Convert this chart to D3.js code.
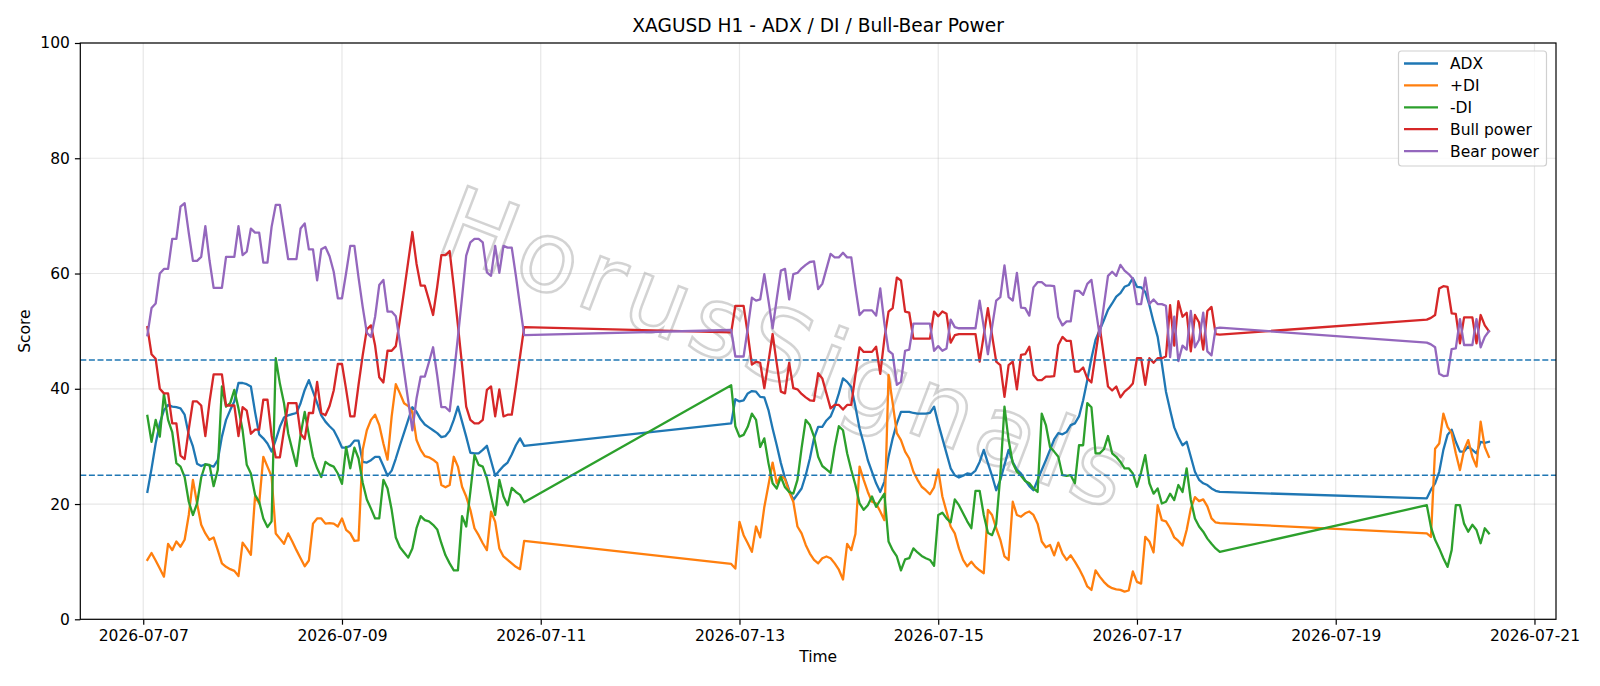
<!DOCTYPE html>
<html>
<head>
<meta charset="utf-8">
<script src="https://cdn.jsdelivr.net/npm/d3@7"></script>
<style>
body { margin: 0; background: #fff; }
svg { display: block; font-family: "DejaVu Sans", sans-serif; }
</style>
</head>
<body>
<svg id="chart" width="1600" height="686"></svg>
<script>
// H1 bars, three trading sessions (weekend gaps in between)
var sessionStart = ["2026-07-07T01:00:00Z", "2026-07-12T22:00:00Z", "2026-07-19T22:00:00Z"];
var sessionBars = [92, 119, 16];

var adx = [
  22.1, 26.1, 30.5, 34.0, 36.3, 37.2, 36.9, 36.8, 36.6, 35.5, 32.0, 30.0, 27.0, 26.6, 26.9, 26.7, 26.5, 27.6, 31.7, 34.6, 36.3, 37.8,
  41.0, 41.0, 40.8, 40.4, 36.0, 32.1, 31.4, 30.5, 29.1, 31.1, 33.4, 35.0, 35.4, 35.6, 35.8, 37.5, 39.8, 41.5, 39.5, 37.5, 35.4, 34.3, 33.5,
  32.8, 31.4, 29.8, 29.8, 30.1, 31.0, 31.0, 27.3, 27.2, 27.6, 28.2, 28.2, 26.6, 24.9, 25.8, 27.9, 30.2, 32.4, 34.6, 36.8, 36.0, 34.7, 33.8,
  33.3, 32.8, 32.3, 31.6, 31.8, 32.7, 34.6, 36.9, 34.3, 31.7, 28.9, 28.8, 28.8, 29.4, 30.1, 27.5, 24.9, 25.8, 26.6, 27.2, 28.6, 30.2, 31.4, 30.1,
  34.0, 38.2, 37.8, 38.0, 39.2, 39.6, 39.5, 38.6, 38.5, 36.3, 33.1, 30.2, 27.1, 24.5, 22.4, 20.7, 21.7, 22.7, 25.0, 27.9, 31.4, 33.4,
  33.4, 34.5, 35.2, 36.9, 39.2, 41.8, 41.2, 40.3, 36.9, 33.1, 30.5, 27.6, 25.6, 23.6, 22.1, 23.9, 28.2, 31.4, 34.0, 36.0, 36.0, 36.0, 35.8, 35.7, 35.7,
  35.7, 35.8, 36.9, 34.0, 31.4, 28.8, 26.2, 25.0, 24.6, 24.9, 25.3, 25.2, 25.8, 27.3, 29.4, 27.1, 24.9, 22.4, 24.2, 26.8, 29.4, 27.3, 26.0, 25.3,
  24.1, 23.1, 22.4, 24.2, 25.9, 27.6, 29.4, 31.2, 32.3, 32.1, 32.5, 33.7, 34.0, 35.2, 38.0, 41.5, 45.3, 48.5, 50.2, 51.9, 53.7, 54.8, 56.0, 56.6, 57.7,
  58.0, 59.2, 57.7, 57.6, 56.8, 54.5, 51.6, 49.0, 44.4, 39.5, 36.3, 33.3, 31.6, 30.2, 30.8, 28.2, 25.6, 24.2, 23.6, 23.3, 22.7, 22.3, 22.1,
  21.0, 22.5, 23.6, 25.6, 29.4, 32.0, 32.9, 30.8, 29.1, 29.1, 30.0, 29.4, 28.8, 30.8, 30.6, 30.8
];

var plusDI = [
  10.3, 11.5, 10.2, 8.8, 7.4, 13.1, 12.0, 13.5, 12.6, 13.8, 18.1, 24.2, 20.1, 16.4, 14.9, 13.8, 14.2, 12.0, 9.7, 9.1, 8.7, 8.4,
  7.5, 13.3, 12.3, 11.2, 21.3, 20.1, 28.2, 26.5, 24.8, 14.9, 14.0, 13.1, 14.9, 13.5, 12.0, 10.6, 9.2, 10.2, 16.6, 17.5, 17.5, 16.6, 16.7,
  16.6, 16.1, 17.5, 15.5, 14.9, 13.6, 13.7, 29.4, 32.8, 34.6, 35.5, 33.7, 30.5, 27.7, 35.2, 40.8, 39.2, 37.5, 37.0, 36.0, 31.1, 29.4, 28.3,
  28.1, 27.7, 27.1, 23.3, 22.9, 23.3, 28.2, 26.5, 23.0, 21.3, 19.0, 15.8, 14.6, 13.2, 12.0, 18.7, 16.9, 12.3, 10.9, 10.3, 9.7, 9.1, 8.7, 13.6,
  9.6, 8.8, 16.9, 14.6, 13.2, 11.7, 16.1, 14.2, 19.5, 23.3, 27.2, 23.6, 25.0, 24.3, 22.1, 20.4, 16.1, 14.9, 12.9, 11.4, 10.3, 9.7,
  10.6, 10.9, 10.6, 9.7, 8.6, 6.9, 13.1, 12.0, 14.8, 26.5, 24.2, 22.1, 20.4, 20.1, 18.7, 17.2, 42.4, 37.5, 32.3, 31.1, 29.1, 27.9, 25.6, 24.2, 23.0,
  22.4, 21.7, 22.9, 26.0, 21.3, 18.7, 16.1, 14.9, 12.3, 10.3, 9.2, 10.0, 9.1, 8.5, 8.0, 19.0, 18.1, 15.8, 13.8, 10.9, 10.3, 20.4, 18.1, 17.8,
  18.4, 18.7, 18.1, 16.6, 13.5, 12.5, 12.9, 11.1, 13.3, 11.4, 10.3, 11.1, 10.0, 8.8, 7.4, 5.7, 5.1, 8.5, 7.4, 6.5, 5.8, 5.4, 5.2, 5.1, 4.8,
  5.0, 8.3, 6.5, 6.2, 14.3, 13.5, 11.6, 19.8, 17.2, 17.0, 15.8, 14.2, 13.6, 12.8, 15.5, 19.2, 21.2, 20.5, 20.8, 19.6, 17.5, 16.8, 16.7,
  14.9, 14.3, 29.6, 30.5, 35.7, 33.4, 32.3, 28.8, 25.9, 29.4, 31.1, 28.2, 26.5, 34.3, 29.9, 28.2
];

var minusDI = [
  35.3, 30.8, 34.6, 31.7, 39.1, 34.6, 32.5, 27.1, 26.5, 24.7, 20.4, 18.1, 20.1, 24.6, 26.9, 26.8, 23.1, 25.9, 40.4, 36.9, 37.5, 39.8,
  36.6, 32.8, 26.8, 25.3, 21.6, 20.4, 17.5, 16.0, 17.0, 45.3, 40.9, 37.5, 32.3, 29.4, 26.6, 32.0, 36.0, 32.0, 28.2, 26.2, 24.7, 27.3, 26.8,
  26.5, 25.3, 23.5, 29.9, 26.2, 29.8, 27.9, 23.7, 20.8, 19.2, 17.5, 17.5, 24.2, 22.7, 19.0, 14.2, 12.5, 11.6, 10.7, 12.3, 15.8, 17.9, 17.2,
  17.0, 16.4, 15.6, 13.2, 11.1, 9.7, 8.5, 8.5, 17.9, 16.1, 22.1, 28.5, 26.8, 26.5, 24.5, 21.3, 18.1, 24.2, 21.3, 19.8, 22.8, 22.1, 21.6, 20.3,
  40.6, 33.5, 31.7, 32.0, 33.4, 35.7, 34.6, 29.9, 31.4, 27.1, 23.6, 22.7, 24.7, 22.9, 22.1, 21.8, 24.2, 29.7, 34.6, 33.7, 31.7, 28.2,
  26.6, 26.0, 25.4, 29.9, 33.5, 32.8, 28.8, 25.9, 23.3, 20.1, 19.0, 19.8, 21.3, 19.5, 20.7, 21.8, 13.5, 12.0, 10.9, 8.5, 10.4, 10.6, 12.3, 11.6, 11.0,
  10.6, 10.3, 9.3, 18.1, 18.5, 17.5, 16.8, 20.8, 19.8, 18.4, 17.0, 15.8, 22.3, 22.3, 18.1, 15.0, 14.6, 16.5, 25.0, 36.9, 31.1, 27.1, 25.6, 24.9,
  24.0, 23.6, 22.7, 22.1, 35.7, 33.7, 29.9, 29.1, 28.2, 25.0, 24.9, 25.0, 23.6, 30.2, 30.2, 37.5, 36.8, 28.8, 28.8, 29.5, 31.8, 28.8, 28.2, 27.3, 26.2,
  26.2, 25.3, 23.0, 25.5, 28.5, 23.6, 21.8, 22.7, 20.1, 20.4, 21.8, 20.7, 23.3, 22.1, 26.2, 20.7, 17.5, 16.1, 15.2, 14.0, 13.1, 12.3, 11.7,
  19.8, 16.0, 13.8, 12.3, 10.6, 9.1, 12.0, 19.8, 19.8, 16.6, 15.2, 16.4, 15.5, 13.2, 15.8, 14.9
];

var bullPower = [
  50.7, 46.0, 45.2, 40.0, 39.2, 39.2, 34.0, 34.0, 28.4, 27.8, 33.0, 37.8, 37.8, 37.1, 31.8, 37.7, 42.5, 42.5, 42.5, 37.1, 37.1, 37.1,
  31.8, 36.8, 36.2, 32.2, 32.9, 32.9, 38.1, 38.1, 31.9, 28.1, 28.1, 32.8, 37.5, 37.5, 37.5, 32.2, 31.3, 35.8, 35.8, 41.2, 35.8, 35.4, 37.0,
  39.7, 44.3, 44.3, 39.9, 35.2, 35.2, 40.7, 45.8, 50.3, 51.0, 47.5, 42.0, 41.1, 46.6, 46.6, 47.4, 52.0, 57.0, 62.1, 67.2, 61.7, 57.9, 57.9,
  55.4, 52.8, 57.7, 63.2, 63.2, 63.9, 57.7, 51.0, 44.1, 36.9, 34.6, 34.0, 34.0, 34.6, 39.8, 40.4, 35.2, 39.9, 35.2, 35.5, 35.5, 40.4, 45.6, 50.7,
  49.8, 54.4, 54.4, 54.4, 49.5, 44.2, 44.7, 44.5, 40.1, 44.7, 49.5, 44.4, 39.5, 39.2, 44.5, 40.1, 39.9, 39.1, 38.5, 38.0, 37.9, 42.7,
  41.8, 39.2, 36.6, 37.2, 37.2, 36.4, 37.2, 37.2, 42.4, 47.2, 46.4, 46.4, 46.4, 47.3, 42.6, 48.7, 53.4, 54.0, 59.3, 58.8, 53.4, 53.2, 48.7, 48.7, 48.7,
  48.7, 48.7, 53.4, 52.6, 53.4, 53.0, 48.0, 49.3, 49.5, 49.5, 49.5, 49.5, 49.5, 44.7, 49.3, 54.0, 49.3, 44.7, 44.1, 38.6, 44.1, 44.7, 39.9, 45.9,
  46.0, 47.3, 42.4, 41.5, 41.5, 42.1, 42.1, 42.2, 47.6, 49.0, 48.3, 48.3, 43.0, 43.0, 43.7, 41.8, 41.1, 46.0, 50.8, 45.6, 40.4, 39.7, 40.4, 38.5, 39.5,
  40.1, 40.9, 45.3, 45.3, 40.7, 45.3, 44.5, 45.3, 45.3, 45.6, 54.5, 47.5, 55.2, 52.5, 53.2, 46.5, 52.8, 51.5, 46.8, 53.5, 54.2, 49.5, 49.4,
  52.0, 52.3, 52.8, 57.4, 57.8, 57.7, 53.1, 53.0, 47.9, 52.4, 52.4, 52.4, 47.9, 52.8, 51.0, 50.0
];

var bearPower = [
  49.3, 54.0, 54.8, 60.0, 60.8, 60.8, 66.0, 66.0, 71.6, 72.2, 67.0, 62.2, 62.2, 62.9, 68.2, 62.3, 57.5, 57.5, 57.5, 62.9, 62.9, 62.9,
  68.2, 63.2, 63.8, 67.8, 67.1, 67.1, 61.9, 61.9, 68.1, 71.9, 71.9, 67.2, 62.5, 62.5, 62.5, 67.8, 68.7, 64.2, 64.2, 58.8, 64.2, 64.6, 63.0,
  60.3, 55.7, 55.7, 60.1, 64.8, 64.8, 59.3, 54.2, 49.7, 49.0, 52.5, 58.0, 58.9, 53.4, 53.4, 52.6, 48.0, 43.0, 37.9, 32.8, 38.3, 42.1, 42.1,
  44.6, 47.2, 42.3, 36.8, 36.8, 36.1, 42.3, 49.0, 55.9, 63.1, 65.4, 66.0, 66.0, 65.4, 60.2, 59.6, 64.8, 60.1, 64.8, 64.5, 64.5, 59.6, 54.4, 49.3,
  50.2, 45.6, 45.6, 45.6, 50.5, 55.8, 55.3, 55.5, 59.9, 55.3, 50.5, 55.6, 60.5, 60.8, 55.5, 59.9, 60.1, 60.9, 61.5, 62.0, 62.1, 57.3,
  58.2, 60.8, 63.4, 62.8, 62.8, 63.6, 62.8, 62.8, 57.6, 52.8, 53.6, 53.6, 53.6, 52.7, 57.4, 51.3, 46.6, 46.0, 40.7, 41.2, 46.6, 46.8, 51.3, 51.3, 51.3,
  51.3, 51.3, 46.6, 47.4, 46.6, 47.0, 52.0, 50.7, 50.5, 50.5, 50.5, 50.5, 50.5, 55.3, 50.7, 46.0, 50.7, 55.3, 55.9, 61.4, 55.9, 55.3, 60.1, 54.1,
  54.0, 52.7, 57.6, 58.5, 58.5, 57.9, 57.9, 57.8, 52.4, 51.0, 51.7, 51.7, 57.0, 57.0, 56.3, 58.2, 58.9, 54.0, 49.2, 54.4, 59.6, 60.3, 59.6, 61.5, 60.5,
  59.9, 59.1, 54.7, 54.7, 59.3, 54.7, 55.5, 54.7, 54.7, 54.4, 45.5, 52.5, 44.8, 47.5, 46.8, 53.5, 47.2, 48.5, 53.2, 46.5, 45.8, 50.5, 50.6,
  48.0, 47.7, 47.2, 42.6, 42.2, 42.3, 46.9, 47.0, 52.1, 47.6, 47.6, 47.6, 52.1, 47.2, 49.0, 50.0
];

var seriesNames = ["ADX", "+DI", "-DI", "Bull power", "Bear power"];
var seriesColors = ["#1f77b4", "#ff7f0e", "#2ca02c", "#d62728", "#9467bd"];
var refLevels = [25, 45];
var xTickLabels = ["2026-07-07", "2026-07-09", "2026-07-11", "2026-07-13", "2026-07-15", "2026-07-17", "2026-07-19", "2026-07-21"];
var yTickLabels = [0, 20, 40, 60, 80, 100];

// hourly timestamps for each session
var times = [];
sessionStart.forEach(function(s, i) {
    var t0 = new Date(s).getTime();
    for (var k = 0; k < sessionBars[i]; k++) times.push(new Date(t0 + k * 3600 * 1000));
});

var series = [adx, plusDI, minusDI, bullPower, bearPower];

var svg = d3.select("#chart");
// plot box (window.top is reserved, so keep these in an object)
var box = {left: 80.3, right: 1556, top: 43, bottom: 619.3};

// matplotlib style 5% margin on x
var tMin = d3.min(times), tMax = d3.max(times);
var pad = (tMax - tMin) * 0.05;
var x = d3.scaleUtc()
    .domain([new Date(+tMin - pad), new Date(+tMax + pad)])
    .range([box.left, box.right]);
var y = d3.scaleLinear().domain([0, 100]).range([box.bottom, box.top]);

var xTicks = xTickLabels.map(function(d) { return new Date(d + "T00:00:00Z"); });

// grid
svg.append("g").selectAll("line")
    .data(xTicks)
    .enter().append("line")
        .attr("x1", function(d) { return x(d); })
        .attr("x2", function(d) { return x(d); })
        .attr("y1", box.top).attr("y2", box.bottom)
        .style("stroke", "#b0b0b0").style("stroke-opacity", 0.3).style("stroke-width", "1.2px");

svg.append("g").selectAll("line")
    .data(yTickLabels)
    .enter().append("line")
        .attr("x1", box.left).attr("x2", box.right)
        .attr("y1", function(d) { return y(d); })
        .attr("y2", function(d) { return y(d); })
        .style("stroke", "#b0b0b0").style("stroke-opacity", 0.3).style("stroke-width", "1.2px");

// watermark
svg.append("text")
    .attr("transform", "translate(786,356) rotate(21)")
    .attr("text-anchor", "middle")
    .attr("dominant-baseline", "middle")
    .style("font-family", "DejaVu Sans")
    .style("font-size", "98px")
    .style("letter-spacing", "8px")
    .style("fill", "none")
    .style("stroke", "#a8a8a8")
    .style("stroke-opacity", 0.5)
    .style("stroke-width", "2.5px")
    .text("HorusSignals");

// lines
var line = d3.line()
    .x(function(d, i) { return x(times[i]); })
    .y(function(d) { return y(d); });

svg.append("g").selectAll("path")
    .data(series)
    .enter().append("path")
        .attr("d", function(d) { return line(d); })
        .attr("fill", "none")
        .style("stroke", function(d, i) { return seriesColors[i]; })
        .style("stroke-width", "2.3px")
        .style("stroke-linejoin", "round")
        .style("stroke-linecap", "square");

// reference levels
svg.append("g").selectAll("line")
    .data(refLevels)
    .enter().append("line")
        .attr("x1", box.left).attr("x2", box.right)
        .attr("y1", function(d) { return y(d); })
        .attr("y2", function(d) { return y(d); })
        .style("stroke", "#1f77b4")
        .style("stroke-width", "1.6px")
        .style("stroke-dasharray", "6,2.6");

// axes
var xAxis = svg.append("g")
    .attr("transform", "translate(0," + box.bottom + ")")
    .call(d3.axisBottom(x).tickValues(xTicks).tickFormat(d3.utcFormat("%Y-%m-%d")).tickSize(5.4).tickSizeOuter(0).tickPadding(5));
var yAxis = svg.append("g")
    .attr("transform", "translate(" + box.left + ",0)")
    .call(d3.axisLeft(y).tickValues(yTickLabels).tickSize(5.4).tickSizeOuter(0).tickPadding(5));

[xAxis, yAxis].forEach(function(a) {
    a.select(".domain").remove();
    a.selectAll(".tick line").style("stroke", "#000").style("stroke-width", "1.2px");
    a.selectAll(".tick text")
        .style("font-family", "DejaVu Sans")
        .style("font-size", "15.5px")
        .style("fill", "#000");
});

svg.append("rect")
    .attr("x", box.left).attr("y", box.top)
    .attr("width", box.right - box.left).attr("height", box.bottom - box.top)
    .attr("fill", "none")
    .style("stroke", "#000").style("stroke-width", "1.2px");

// title and labels
svg.append("text")
    .attr("x", (box.left + box.right) / 2).attr("y", 32)
    .attr("text-anchor", "middle")
    .style("font-size", "18.6px")
    .text("XAGUSD H1 - ADX / DI / Bull-Bear Power");

svg.append("text")
    .attr("x", (box.left + box.right) / 2).attr("y", 662)
    .attr("text-anchor", "middle")
    .style("font-size", "15.5px")
    .text("Time");

svg.append("text")
    .attr("transform", "translate(30," + ((box.top + box.bottom) / 2) + ") rotate(-90)")
    .attr("text-anchor", "middle")
    .style("font-size", "15.5px")
    .text("Score");

// legend
var legend = svg.append("g");
legend.append("rect")
    .attr("x", 1398.5).attr("y", 51)
    .attr("width", 148).attr("height", 115)
    .attr("rx", 3)
    .style("fill", "#fff").style("fill-opacity", 0.8)
    .style("stroke", "#d0d0d0").style("stroke-width", "1.2px");

var items = legend.selectAll(".item")
    .data(seriesNames)
    .enter().append("g")
        .attr("class", "item")
        .attr("transform", function(d, i) { return "translate(0," + (63.5 + i * 21.9) + ")"; });

items.append("line")
    .attr("x1", 1404).attr("x2", 1438)
    .style("stroke", function(d, i) { return seriesColors[i]; })
    .style("stroke-width", "2.3px");

items.append("text")
    .attr("x", 1450).attr("y", 0)
    .attr("dy", "0.35em")
    .style("font-size", "15.5px")
    .text(function(d) { return d; });
</script>
</body>
</html>
